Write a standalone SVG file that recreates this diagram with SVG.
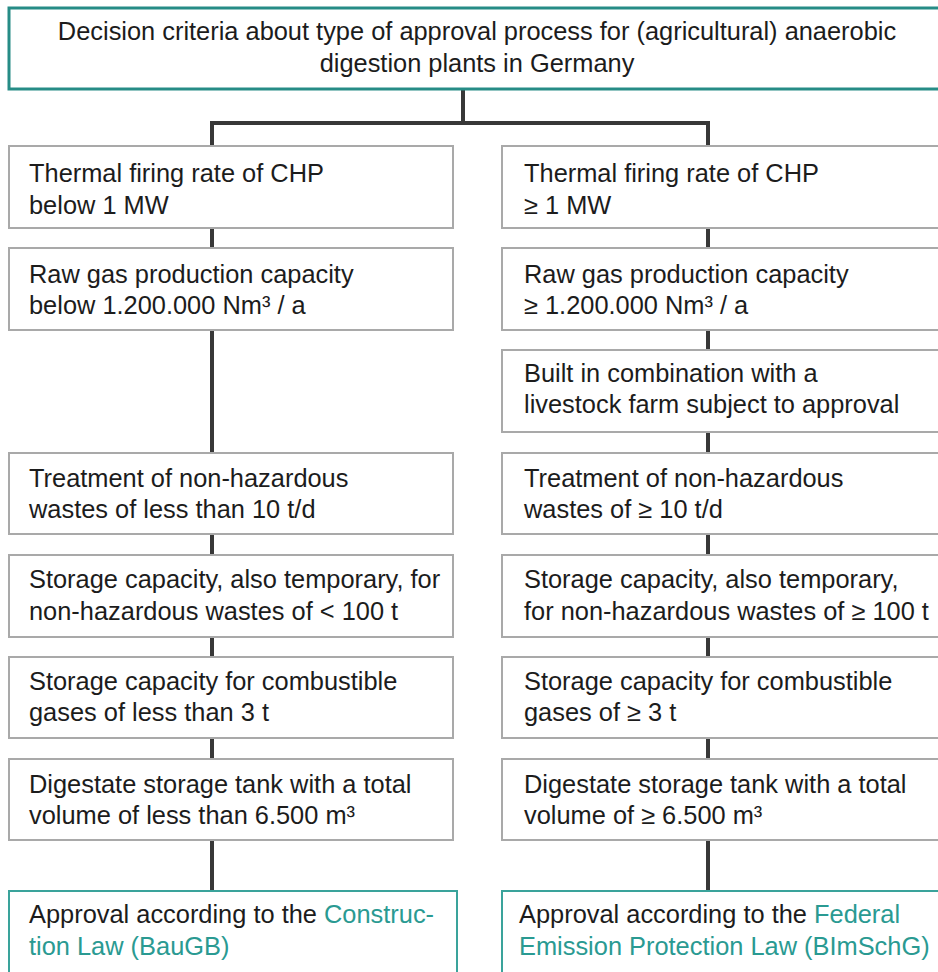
<svg xmlns="http://www.w3.org/2000/svg" width="938" height="972" viewBox="0 0 938 972">
<style>
text{font-family:"Liberation Sans",Arial,sans-serif;font-size:25.4px;fill:#1c1c1c}
.c{text-anchor:middle}
.t{fill:#2a9a92}
.box{fill:#fff;stroke:#a9a9a9;stroke-width:2}
.top{fill:#fff;stroke:#268c86;stroke-width:3}
.end{fill:#fff;stroke:#3aa39b;stroke-width:2}
.ln{fill:none;stroke:#383838;stroke-width:4}
</style>
<rect width="938" height="972" fill="#fff"/>
<g id="connectors">
<path class="ln" d="M463 89V123M210 123H710M212 121V146M212 228V248M212 330V453M212 534V555M212 637V657M212 738V759M212 840V891M708 121V146M708 228V248M708 330V350M708 432V453M708 534V555M708 637V657M708 738V759M708 840V891"/>
</g>
<g id="title">
<rect class="top" x="9" y="8" width="940" height="81"/>
<text class="c" x="477" y="40" font-size="25.5">Decision criteria about type of approval process for (agricultural) anaerobic</text>
<text class="c" x="477" y="72" font-size="25.5">digestion plants in Germany</text>
</g>
<g id="L1"><rect class="box" x="9" y="146" width="444" height="82"/><text x="29" y="182">Thermal firing rate of CHP</text><text x="29" y="214">below 1 MW</text></g>
<g id="L2"><rect class="box" x="9" y="248" width="444" height="82"/><text x="29" y="283">Raw gas production capacity</text><text x="29" y="314">below 1.200.000 Nm³ / a</text></g>
<g id="L3"><rect class="box" x="9" y="453" width="444" height="81"/><text x="29" y="487">Treatment of non-hazardous</text><text x="29" y="518">wastes of less than 10 t/d</text></g>
<g id="L4"><rect class="box" x="9" y="555" width="444" height="82"/><text x="29" y="588">Storage capacity, also temporary, for</text><text x="29" y="620">non-hazardous wastes of &lt; 100 t</text></g>
<g id="L5"><rect class="box" x="9" y="657" width="444" height="81"/><text x="29" y="690">Storage capacity for combustible</text><text x="29" y="721">gases of less than 3 t</text></g>
<g id="L6"><rect class="box" x="9" y="759" width="444" height="81"/><text x="29" y="793">Digestate storage tank with a total</text><text x="29" y="824">volume of less than 6.500 m³</text></g>
<g id="R1"><rect class="box" x="502" y="146" width="440" height="82"/><text x="524" y="182">Thermal firing rate of CHP</text><text x="524" y="214">≥ 1 MW</text></g>
<g id="R2"><rect class="box" x="502" y="248" width="440" height="82"/><text x="524" y="283">Raw gas production capacity</text><text x="524" y="314">≥ 1.200.000 Nm³ / a</text></g>
<g id="R3"><rect class="box" x="502" y="350" width="440" height="82"/><text x="524" y="382">Built in combination with a</text><text x="524" y="413">livestock farm subject to approval</text></g>
<g id="R4"><rect class="box" x="502" y="453" width="440" height="81"/><text x="524" y="487">Treatment of non-hazardous</text><text x="524" y="518">wastes of ≥ 10 t/d</text></g>
<g id="R5"><rect class="box" x="502" y="555" width="440" height="82"/><text x="524" y="588">Storage capacity, also temporary,</text><text x="524" y="620">for non-hazardous wastes of ≥ 100 t</text></g>
<g id="R6"><rect class="box" x="502" y="657" width="440" height="81"/><text x="524" y="690">Storage capacity for combustible</text><text x="524" y="721">gases of ≥ 3 t</text></g>
<g id="R7"><rect class="box" x="502" y="759" width="440" height="81"/><text x="524" y="793">Digestate storage tank with a total</text><text x="524" y="824">volume of ≥ 6.500 m³</text></g>
<g id="LEnd"><rect class="end" x="9" y="891" width="448" height="90"/><text x="29" y="923">Approval according to the <tspan class="t">Construc-</tspan></text><text x="29" y="955" class="t">tion Law (BauGB)</text></g>
<g id="REnd"><rect class="end" x="502" y="891" width="440" height="90"/><text x="519" y="923">Approval according to the <tspan class="t">Federal</tspan></text><text x="519" y="955" class="t">Emission Protection Law (BImSchG)</text></g>
</svg>
